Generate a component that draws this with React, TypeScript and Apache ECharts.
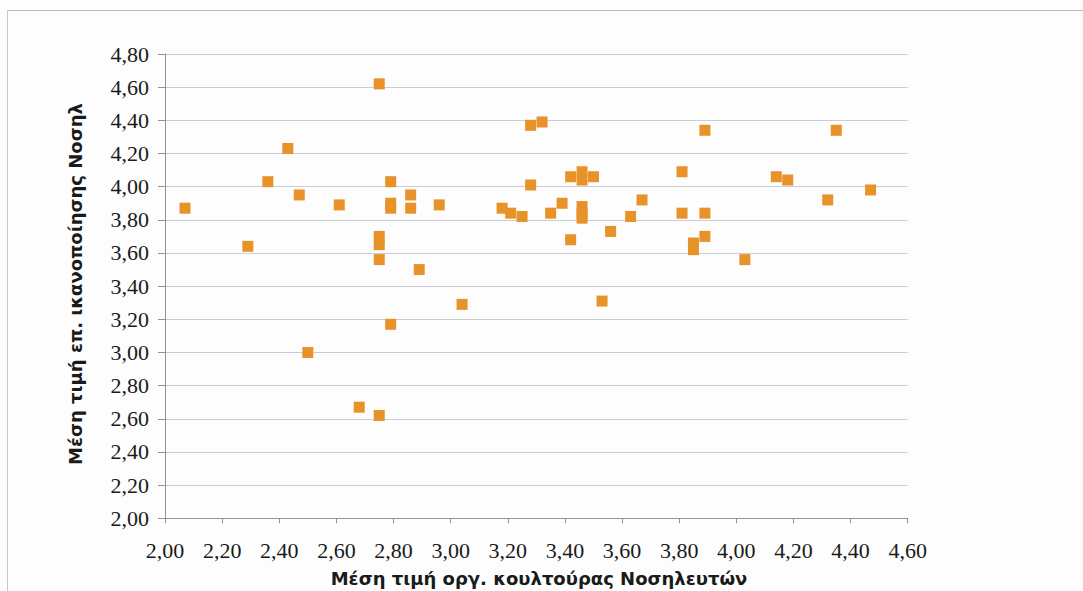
import React, { useEffect, useRef } from "react";
import * as echarts from "echarts";

const xValues = [
  2.07, 2.29, 2.36, 2.43, 2.47, 2.5, 2.61, 2.68, 2.75, 2.75, 2.75, 2.75, 2.75,
  2.79, 2.79, 2.79, 2.79, 2.86, 2.86, 2.89, 2.96, 3.04, 3.18, 3.21, 3.25, 3.28,
  3.28, 3.32, 3.35, 3.39, 3.42, 3.42, 3.46, 3.46, 3.46, 3.46, 3.46, 3.5, 3.53,
  3.56, 3.63, 3.67, 3.81, 3.81, 3.85, 3.85, 3.89, 3.89, 3.89, 4.03, 4.14, 4.18,
  4.32, 4.35, 4.47,
];
const yValues = [
  3.87, 3.64, 4.03, 4.23, 3.95, 3.0, 3.89, 2.67, 4.62, 3.7, 3.65, 3.56, 2.62,
  4.03, 3.9, 3.87, 3.17, 3.95, 3.87, 3.5, 3.89, 3.29, 3.87, 3.84, 3.82, 4.37,
  4.01, 4.39, 3.84, 3.9, 4.06, 3.68, 4.09, 4.04, 3.88, 3.84, 3.81, 4.06, 3.31,
  3.73, 3.82, 3.92, 4.09, 3.84, 3.66, 3.62, 4.34, 3.84, 3.7, 3.56, 4.06, 4.04,
  3.92, 4.34, 3.98,
];

const xTitle = "Μέση τιμή οργ. κουλτούρας Νοσηλευτών";
const yTitle = "Μέση τιμή επ. ικανοποίησης Νοσηλ";

const fmt = (v: number) => v.toFixed(2).replace(".", ",");

export default function App() {
  const ref = useRef<HTMLDivElement>(null);
  useEffect(() => {
    if (!ref.current) return;
    const chart = echarts.init(ref.current, undefined, { renderer: "svg" });
    const data = xValues.map((x, i) => [x, yValues[i]]);
    const labelFont = {
      fontFamily: "'Liberation Serif', serif",
      fontSize: 22,
      color: "#1a1a1a",
    };
    chart.setOption({
      animation: false,
      backgroundColor: "#fcfdfc",
      grid: { left: 165, right: 175.3, top: 54, bottom: 72.7 },
      xAxis: {
        type: "value",
        min: 2,
        max: 4.6,
        interval: 0.2,
        axisLine: { show: true, onZero: false, lineStyle: { color: "#8e95a2", width: 1 } },
        axisTick: { show: true, length: 5, lineStyle: { color: "#8e95a2" } },
        axisLabel: { ...labelFont, margin: 21, formatter: fmt },
        splitLine: { show: false },
      },
      yAxis: {
        type: "value",
        min: 2,
        max: 4.8,
        interval: 0.2,
        axisLine: { show: true, onZero: false, lineStyle: { color: "#8e95a2", width: 1 } },
        axisTick: { show: true, length: 7, lineStyle: { color: "#8e95a2" } },
        axisLabel: { ...labelFont, margin: 16, formatter: fmt },
        splitLine: { show: true, lineStyle: { color: "#c9cdd8", width: 1 } },
      },
      series: [
        {
          type: "scatter",
          data,
          symbol: "rect",
          symbolSize: 11,
          itemStyle: { color: "#e8922a", opacity: 1 },
        },
      ],
      graphic: [
        {
          type: "line",
          shape: { x1: 7, y1: 10.5, x2: 1083, y2: 10.5 },
          style: { stroke: "#b9bec8", lineWidth: 1 },
        },
        {
          type: "line",
          shape: { x1: 7.5, y1: 10, x2: 7.5, y2: 591 },
          style: { stroke: "#c4c8d0", lineWidth: 1 },
        },
        {
          type: "text",
          x: 539,
          y: 578,
          style: {
            text: xTitle,
            font: "bold 18px 'DejaVu Sans', sans-serif",
            fill: "#1a1a1a",
            align: "center",
            verticalAlign: "middle",
          },
        },
        {
          type: "text",
          x: 75,
          y: 284,
          rotation: Math.PI / 2,
          style: {
            text: yTitle,
            font: "bold 18px 'DejaVu Sans', sans-serif",
            fill: "#1a1a1a",
            align: "center",
            verticalAlign: "middle",
          },
        },
      ],
    });
    return () => chart.dispose();
  }, []);
  return (
    <div
      ref={ref}
      style={{ position: "fixed", left: 0, top: 0, width: 1083, height: 591 }}
    />
  );
}
